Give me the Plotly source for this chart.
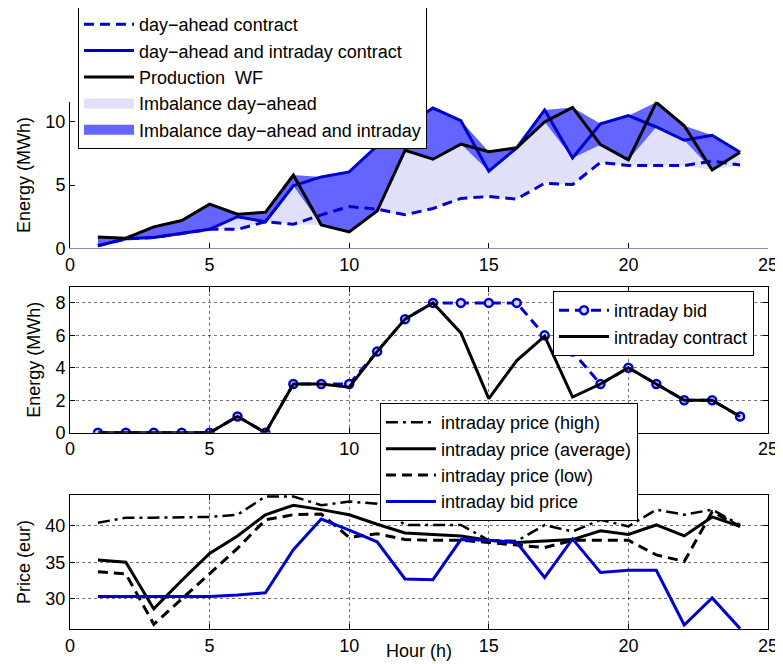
import numpy as np
import plotly.graph_objects as go

# ---------------- data ----------------
hours = list(range(1, 25))

day_ahead = [0.2, 0.75, 0.85, 1.15, 1.5, 1.5, 2.1, 1.9, 2.65, 3.3, 3.1, 2.65,
             3.15, 3.95, 4.1, 3.9, 5.15, 5.05, 6.8, 6.55, 6.55, 6.55, 6.9, 6.6]
day_ahead_intraday = [0.2, 0.75, 0.85, 1.15, 1.5, 2.5, 2.1, 4.95, 5.65, 6.05, 8.1, 9.65,
                      11.1, 10.1, 6.1, 7.95, 10.95, 7.15, 9.85, 10.5, 9.6, 8.55, 8.95, 7.6]
production = [0.9, 0.8, 1.7, 2.2, 3.5, 2.7, 2.85, 5.8, 1.85, 1.3, 2.95, 7.75,
              7.05, 8.25, 7.65, 7.95, 10.0, 11.15, 8.2, 7.0, 11.55, 9.7, 6.2, 7.6]

intraday_bid = [0, 0, 0, 0, 0, 1, 0, 3, 3, 3, 5, 7, 8, 8, 8, 8, 6, 5, 3, 4, 3, 2, 2, 1]
intraday_contract = [0, 0, 0, 0, 0, 1, 0, 3, 3, 2.8, 5, 7, 8, 6.15, 2.1, 4.45,
                     5.95, 2.2, 3, 4, 3, 2, 2, 1]

price_high = [40.4, 41.1, 41.1, 41.1, 41.2, 41.5, 44.0, 44.0, 42.8, 43.3, 43.0, 40.1,
              40.1, 40.1, 38.0, 37.9, 40.1, 39.2, 40.8, 39.9, 42.2, 41.5, 42.2, 40.1]
price_avg = [35.3, 35.0, 28.6, 32.5, 36.2, 38.6, 41.5, 42.8, 42.2, 41.5, 40.2, 39.0,
             38.8, 38.6, 38.0, 37.7, 37.9, 38.1, 39.3, 38.8, 40.1, 38.6, 41.2, 39.9]
price_low = [33.7, 33.4, 26.5, 30.0, 33.4, 36.9, 40.8, 41.5, 41.6, 38.4, 38.9, 38.1,
             38.0, 38.0, 37.7, 37.4, 37.0, 38.0, 38.0, 38.0, 36.0, 35.1, 41.9, 39.9]
bid_price = [30.3, 30.3, 30.3, 30.3, 30.3, 30.5, 30.8, 36.7, 40.9, 39.4, 37.8, 32.7,
             32.6, 38.1, 38.0, 37.7, 32.9, 38.2, 33.6, 33.9, 33.9, 26.4, 30.1, 25.9]

x_ticks = [0, 5, 10, 15, 20, 25]

# ---------------- styles ----------------
BLUE = "#0000CC"
LIGHT = "#E0E0F9"
DARK = "#6464FF"
FONT = "Liberation Sans, Arial, Helvetica, sans-serif"

fig = go.Figure()

def band(a, b):
    a = np.asarray(a, float)
    b = np.asarray(b, float)
    upper = np.maximum(a, b)
    lower = np.minimum(a, b)
    xs = hours + hours[::-1]
    ys = list(upper) + list(lower[::-1])
    return xs, ys

# ---- top panel ----
xs, ys = band(day_ahead, production)
fig.add_trace(go.Scatter(x=xs, y=ys, fill="toself", fillcolor=LIGHT, mode="none",
                         showlegend=False, xaxis="x", yaxis="y", hoverinfo="skip"))
xs, ys = band(day_ahead_intraday, production)
fig.add_trace(go.Scatter(x=xs, y=ys, fill="toself", fillcolor=DARK, mode="none",
                         showlegend=False, xaxis="x", yaxis="y", hoverinfo="skip"))

fig.add_trace(go.Scatter(x=hours, y=day_ahead, mode="lines", name="day\u2212ahead contract",
                         line=dict(color=BLUE, width=3, dash="10px,6px"),
                         legend="legend", legendgroup="a", xaxis="x", yaxis="y"))
fig.add_trace(go.Scatter(x=hours, y=day_ahead_intraday, mode="lines",
                         name="day\u2212ahead and intraday contract",
                         line=dict(color=BLUE, width=3),
                         legend="legend", legendgroup="b", xaxis="x", yaxis="y"))
fig.add_trace(go.Scatter(x=hours, y=production, mode="lines", name="Production  WF",
                         line=dict(color="black", width=3),
                         legend="legend", legendgroup="c", xaxis="x", yaxis="y"))
fig.add_trace(go.Scatter(x=[None], y=[None], mode="lines", name="Imbalance day\u2212ahead",
                         line=dict(color=LIGHT, width=18),
                         legend="legend", legendgroup="d", xaxis="x", yaxis="y"))
fig.add_trace(go.Scatter(x=[None], y=[None], mode="lines",
                         name="Imbalance day\u2212ahead and intraday",
                         line=dict(color=DARK, width=18),
                         legend="legend", legendgroup="e", xaxis="x", yaxis="y"))

# ---- middle panel ----
fig.add_trace(go.Scatter(x=hours, y=intraday_bid, mode="lines+markers", name="intraday bid",
                         line=dict(color=BLUE, width=3, dash="10px,6px"),
                         marker=dict(symbol="circle", size=8, color="#D8D8FF",
                                     line=dict(color=BLUE, width=2.5)),
                         legend="legend2", legendgroup="f", xaxis="x2", yaxis="y2"))
fig.add_trace(go.Scatter(x=hours, y=intraday_contract, mode="lines", name="intraday contract",
                         line=dict(color="black", width=3),
                         legend="legend2", legendgroup="g", xaxis="x2", yaxis="y2"))

# ---- bottom panel ----
fig.add_trace(go.Scatter(x=hours, y=price_high, mode="lines", name="intraday price (high)",
                         line=dict(color="black", width=2.5, dash="12px,5px,3px,5px"),
                         legend="legend3", legendgroup="h", xaxis="x3", yaxis="y3"))
fig.add_trace(go.Scatter(x=hours, y=price_avg, mode="lines", name="intraday price (average)",
                         line=dict(color="black", width=3),
                         legend="legend3", legendgroup="i", xaxis="x3", yaxis="y3"))
fig.add_trace(go.Scatter(x=hours, y=price_low, mode="lines", name="intraday price (low)",
                         line=dict(color="black", width=3, dash="10px,6px"),
                         legend="legend3", legendgroup="j", xaxis="x3", yaxis="y3"))
fig.add_trace(go.Scatter(x=hours, y=bid_price, mode="lines", name="intraday bid price",
                         line=dict(color=BLUE, width=3),
                         legend="legend3", legendgroup="k", xaxis="x3", yaxis="y3"))

# ---------------- layout ----------------
tickfont = dict(family=FONT, size=18, color="black")
titlefont = dict(family=FONT, size=18, color="black")

def xaxis_common(anchor, boxed, linecolor="black"):
    d = dict(range=[0, 25], tickvals=x_ticks, ticks="inside", ticklen=5, tickcolor="black",
             showline=True, linecolor=linecolor, linewidth=1, tickfont=tickfont,
             zeroline=False, anchor=anchor, fixedrange=True, automargin=False)
    if boxed:
        d.update(mirror="ticks", showgrid=True, gridcolor="rgba(0,0,0,0.55)",
                 griddash="dot", gridwidth=1)
    else:
        d.update(showgrid=False)
    return d

def yaxis_common(anchor, boxed, rng, tickvals, title, domain, standoff):
    d = dict(range=rng, tickvals=tickvals, ticks="inside", ticklen=5, tickcolor="black",
             showline=True, linecolor="black", linewidth=1, tickfont=tickfont,
             zeroline=False, anchor=anchor, domain=domain, fixedrange=True,
             automargin=False,
             title=dict(text=title, font=titlefont, standoff=standoff))
    if boxed:
        d.update(mirror="ticks", showgrid=True, gridcolor="rgba(0,0,0,0.55)",
                 griddash="dot", gridwidth=1)
    else:
        d.update(showgrid=False)
    return d

legend_common = dict(bgcolor="white", bordercolor="black", borderwidth=1,
                     font=dict(family=FONT, size=18, color="black"),
                     xanchor="left", yanchor="top", traceorder="grouped",
                     tracegroupgap=0, itemwidth=50)

# The page body has an 8px margin, so the figure is sized/offset to compensate.
fig.update_layout(
    width=775, height=656,
    margin=dict(l=62, r=15, t=12, b=35, autoexpand=False),
    paper_bgcolor="white", plot_bgcolor="rgba(0,0,0,0)",
    font=dict(family=FONT, size=18, color="black"),
    xaxis=xaxis_common("y", False, linecolor="#8A8AA8"),
    yaxis=yaxis_common("x", False, [0, 11.6], [0, 5, 10], "Energy (MWh)",
                       [0.6251, 0.8658], 10),
    xaxis2=xaxis_common("y2", True),
    yaxis2=yaxis_common("x2", True, [0, 9], [0, 2, 4, 6, 8], "Energy (MWh)",
                        [0.3223, 0.5621], 10),
    xaxis3=xaxis_common("y3", True),
    yaxis3=yaxis_common("x3", True, [25.85, 44.2], [30, 35, 40], "Price (eur)",
                        [0.0, 0.2200], 10),
    legend=dict(legend_common, x=0.0115, y=1.0246),
    legend2=dict(legend_common, x=0.692, y=0.555),
    legend3=dict(legend_common, x=0.444, y=0.371),
    annotations=[dict(text="Hour (h)", xref="paper", yref="paper", x=0.5, y=-0.036,
                      xanchor="center", yanchor="middle", showarrow=False,
                      font=titlefont)],
    showlegend=True,
)

fig.write_html("out.html")
